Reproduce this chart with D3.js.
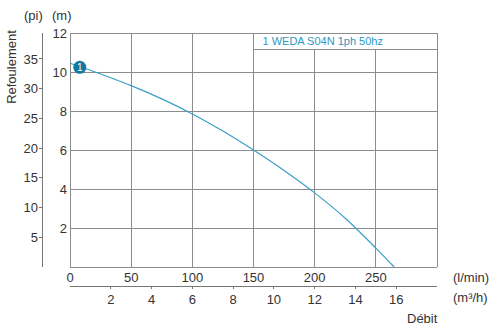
<!DOCTYPE html>
<html>
<head>
<meta charset="utf-8">
<script src="https://cdn.jsdelivr.net/npm/d3@7"></script>
<style>
  html, body { margin: 0; padding: 0; background: #fff; }
  svg text { font-family: "Liberation Sans", Arial, Helvetica, sans-serif; fill: #333; }
</style>
</head>
<body>
<svg id="chart" width="493" height="328"></svg>
<script>
// Pump curve: flow (l/min) vs head (m)
const flowLmin = [0, 25, 50, 75, 100, 125, 150, 175, 200, 225, 250, 265];
const headM    = [10.45, 9.9, 9.3, 8.62, 7.85, 6.97, 6.0, 4.95, 3.8, 2.5, 0.97, 0];
const markerFlow = 8, markerHead = 10.24;
const seriesLabel = "1 WEDA S04N 1ph 50hz";

const flowTicks = [0, 50, 100, 150, 200, 250];
const flowGrid  = [0, 50, 100, 150, 200, 250, 300];
const headTicks = [2, 4, 6, 8, 10, 12];
const headGrid  = [2, 4, 6, 8, 10, 12];
const feetTicks = [5, 10, 15, 20, 25, 30, 35];
const m3hTicks  = [2, 4, 6, 8, 10, 12, 14, 16];

const svg = d3.select("#chart");
const plotLeft = 70, plotRight = 437, plotTop = 33, plotBottom = 267;

const x = d3.scaleLinear().domain([0, 300]).range([plotLeft, plotRight]);
const y = d3.scaleLinear().domain([0, 12]).range([plotBottom, plotTop]);
const yFt = d3.scaleLinear().domain([0, 12 * 3.28084]).range([plotBottom, plotTop]);
const xM3 = d3.scaleLinear().domain([0, 18]).range([plotLeft, plotRight]);

const grid = "#8c8c8c";
const lineCol = "#3a9fc6";
const darkCol = "#117aa0";

const legendTop = plotTop, legendBottom = 49, legendLeft = x(150);

// grid lines
const g = svg.append("g").attr("stroke", grid).attr("stroke-width", 1).attr("shape-rendering", "crispEdges");
flowGrid.forEach(v => {
  const inLegend = v > 150 && v < 300;
  g.append("line").attr("x1", x(v)).attr("x2", x(v))
    .attr("y1", inLegend ? legendBottom : plotTop).attr("y2", plotBottom);
});
headGrid.forEach(v => {
  g.append("line").attr("x1", plotLeft).attr("x2", plotRight).attr("y1", y(v)).attr("y2", y(v));
});
g.append("line").attr("x1", plotLeft).attr("x2", plotRight).attr("y1", plotBottom).attr("y2", plotBottom);

// legend box
svg.append("rect").attr("x", legendLeft).attr("y", legendTop)
  .attr("width", plotRight - legendLeft).attr("height", legendBottom - legendTop)
  .attr("fill", "#fff").attr("stroke", grid).attr("shape-rendering", "crispEdges");
svg.append("text").attr("x", legendLeft + 9).attr("y", 45)
  .attr("font-size", 11).style("fill", "#2b97c2").text(seriesLabel);

// head (m) labels
svg.append("g").selectAll("text").data(headTicks).join("text")
  .attr("x", plotLeft - 3).attr("y", d => y(d)).attr("dy", "0.35em")
  .attr("text-anchor", "end").attr("font-size", 13).text(d => d);

// feet axis
const ftX = 42;
svg.append("line").attr("x1", ftX).attr("x2", ftX).attr("y1", plotTop).attr("y2", plotBottom)
  .attr("stroke", "#777").attr("shape-rendering", "crispEdges");
const ftG = svg.append("g");
ftG.selectAll("line").data(feetTicks).join("line")
  .attr("x1", ftX - 3).attr("x2", ftX).attr("y1", d => yFt(d)).attr("y2", d => yFt(d))
  .attr("stroke", "#777").attr("shape-rendering", "crispEdges");
ftG.selectAll("text").data(feetTicks).join("text")
  .attr("x", ftX - 4).attr("y", d => yFt(d)).attr("dy", "0.35em")
  .attr("text-anchor", "end").attr("font-size", 13).text(d => d);

// flow (l/min) labels
svg.append("g").selectAll("text").data(flowTicks).join("text")
  .attr("x", d => x(d)).attr("y", 277).attr("dy", "0.35em")
  .attr("text-anchor", "middle").attr("font-size", 13).text(d => d);

// m3/h axis
const m3Y = 286;
svg.append("line").attr("x1", plotLeft).attr("x2", plotRight).attr("y1", m3Y).attr("y2", m3Y)
  .attr("stroke", "#777").attr("shape-rendering", "crispEdges");
const m3G = svg.append("g");
m3G.selectAll("line").data(m3hTicks).join("line")
  .attr("x1", d => xM3(d)).attr("x2", d => xM3(d)).attr("y1", m3Y).attr("y2", m3Y + 3)
  .attr("stroke", "#777").attr("shape-rendering", "crispEdges");
m3G.selectAll("text").data(m3hTicks).join("text")
  .attr("x", d => xM3(d)).attr("y", 299).attr("dy", "0.35em")
  .attr("text-anchor", "middle").attr("font-size", 13).text(d => d);

// axis titles
svg.append("text").attr("x", 453).attr("y", 277).attr("dy", "0.35em").attr("font-size", 13).text("(l/min)");
svg.append("text").attr("x", 453).attr("y", 297).attr("dy", "0.35em").attr("font-size", 13).text("(m³/h)");
svg.append("text").attr("x", 407).attr("y", 318).attr("dy", "0.35em").attr("font-size", 13).text("Débit");
svg.append("text").attr("x", 24).attr("y", 15).attr("dy", "0.35em").attr("font-size", 13).text("(pi)");
svg.append("text").attr("x", 52).attr("y", 15).attr("dy", "0.35em").attr("font-size", 13).text("(m)");
svg.append("text").attr("transform", "translate(11,67) rotate(-90)")
  .attr("text-anchor", "middle").attr("dy", "0.35em").attr("font-size", 13).text("Refoulement");

// pump curve
const line = d3.line().x((d, i) => x(flowLmin[i])).y(d => y(d)).curve(d3.curveMonotoneX);
svg.append("path").attr("d", line(headM))
  .attr("fill", "none").attr("stroke", lineCol).attr("stroke-width", 1.2);

// curve marker
svg.append("circle").attr("cx", x(markerFlow)).attr("cy", y(markerHead)).attr("r", 6.5)
  .attr("fill", darkCol);
svg.append("text").attr("x", x(markerFlow)).attr("y", y(markerHead)).attr("dy", "0.36em")
  .attr("text-anchor", "middle").attr("font-size", 10).style("fill", "#fff").text("1");
</script>
</body>
</html>
